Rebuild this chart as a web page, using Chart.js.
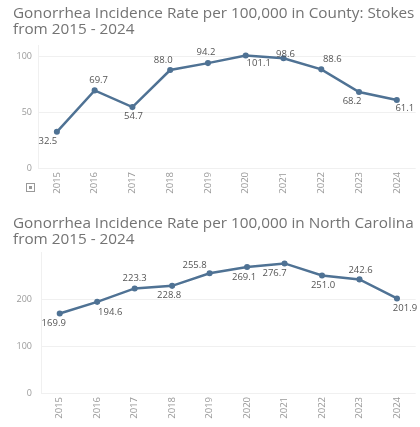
<!DOCTYPE html>
<html>
<head>
<meta charset="utf-8">
<script src="https://cdn.jsdelivr.net/npm/chart.js@4"></script>
<style>
  html,body{margin:0;padding:0;background:#fff;overflow:hidden;width:420px;height:427px;}
  .wrap{position:absolute;left:0;width:420px;}
  canvas{display:block;}
</style>
</head>
<body>
<div class="wrap" style="top:0;height:210px;"><canvas id="c1" width="420" height="210"></canvas></div>
<div class="wrap" style="top:210px;height:217px;"><canvas id="c2" width="420" height="217"></canvas></div>
<script>
// ---- data ----
const years = ["2015","2016","2017","2018","2019","2020","2021","2022","2023","2024"];
const stokesRates = [32.5, 69.7, 54.7, 88.0, 94.2, 101.1, 98.6, 88.6, 68.2, 61.1];
const ncRates = [169.9, 194.6, 223.3, 228.8, 255.8, 269.1, 276.7, 251.0, 242.6, 201.9];
const stokesTicks = [0, 50, 100];
const ncTicks = [0, 100, 200];
const stokesTitle = ["Gonorrhea Incidence Rate per 100,000 in County: Stokes", "from 2015 - 2024"];
const ncTitle = ["Gonorrhea Incidence Rate per 100,000 in North Carolina", "from 2015 - 2024"];

// ---- label placement (pixel offsets from each point) ----
const stokesLabelOffsets = [[-9,9],[4,-10],[1,9],[-7,-10],[-2,-11],[13,8],[2,-4],[11,-10],[-7,9],[8,8]];
const ncLabelOffsets = [[-6,10],[13,10],[0,-10],[-3,9],[-15,-8],[-3,10],[-10,10],[1,10],[1,-9],[8,10]];

const LINE = '#4f7294';
const FONT = "'Open Sans', 'Noto Sans', sans-serif";

const valueLabels = {
  id: 'valueLabels',
  afterDatasetsDraw(chart, args, opts) {
    const ctx = chart.ctx;
    const meta = chart.getDatasetMeta(0);
    const data = chart.data.datasets[0].data;
    ctx.save();
    ctx.font = '9.5px ' + FONT;
    ctx.fillStyle = '#555';
    ctx.textAlign = 'center';
    ctx.textBaseline = 'middle';
    meta.data.forEach((pt, i) => {
      const off = opts.offsets[i];
      ctx.fillText(data[i].toFixed(1), pt.x + off[0], pt.y + off[1]);
    });
    if (opts.icon) {
      const x = 26, y = 183;
      ctx.strokeStyle = '#999';
      ctx.lineWidth = 1;
      ctx.strokeRect(x + 0.5, y + 0.5, 8, 8);
      ctx.fillStyle = '#999';
      ctx.fillRect(x + 3, y + 3, 3, 3);
    }
    ctx.restore();
  }
};

function makeChart(id, values, ticks, title, offsets, cfg) {
  return new Chart(document.getElementById(id), {
    type: 'line',
    data: {
      labels: years,
      datasets: [{
        data: values,
        borderColor: LINE,
        backgroundColor: LINE,
        borderWidth: 2.5,
        pointRadius: 1.8,
        pointHoverRadius: 1.8,
        tension: 0
      }]
    },
    plugins: [valueLabels],
    options: {
      responsive: false,
      animation: false,
      devicePixelRatio: 1,
      layout: { padding: { left: 13, right: 0, top: 0, bottom: 0 } },
      plugins: {
        legend: { display: false },
        tooltip: { enabled: false },
        title: {
          display: true,
          text: title,
          align: 'start',
          color: '#737373',
          font: { family: FONT, size: 15.3, weight: 'normal', lineHeight: 1.03 },
          padding: { top: cfg.titleTop, bottom: cfg.titleBottom }
        },
        valueLabels: { offsets: offsets, icon: cfg.icon }
      },
      scales: {
        x: {
          type: 'category',
          offset: true,
          grid: { display: false, drawTicks: false },
          border: { display: false },
          ticks: {
            minRotation: 90, maxRotation: 90,
            color: '#999',
            padding: 4,
            font: { family: FONT, size: 9.5 }
          },
          afterFit(scale) { scale.height = cfg.xHeight; }
        },
        y: {
          min: 0,
          max: cfg.yMax,
          afterBuildTicks(scale) { scale.ticks = ticks.map(v => ({ value: v })); },
          grid: { color: '#f0f0f0', drawTicks: false, lineWidth: 1 },
          border: { display: true, color: '#f0f0f0' },
          ticks: {
            color: '#9a9a9a',
            padding: cfg.yPad,
            font: { family: FONT, size: 9 }
          },
          afterFit(scale) { scale.width = cfg.yWidth; }
        }
      }
    }
  });
}

makeChart('c1', stokesRates, stokesTicks, stokesTitle, stokesLabelOffsets,
  { titleTop: 6, titleBottom: 8, xHeight: 42, yMax: 110, yWidth: 25, yPad: 6, icon: true });
makeChart('c2', ncRates, ncTicks, ncTitle, ncLabelOffsets,
  { titleTop: 6, titleBottom: 5, xHeight: 34, yMax: 300, yWidth: 28, yPad: 9, icon: false });
</script>
</body>
</html>
